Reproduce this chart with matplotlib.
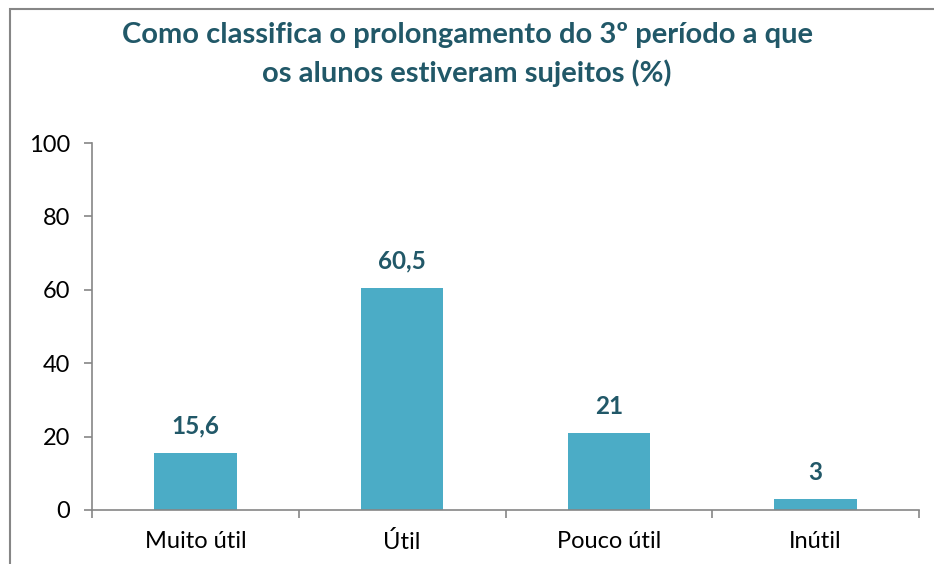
import matplotlib

matplotlib.use("Agg")
import matplotlib.pyplot as plt
from matplotlib.patches import Rectangle
from matplotlib.ticker import FixedLocator, NullFormatter

categories = ["Muito útil", "Útil", "Pouco útil", "Inútil"]
values = [15.6, 60.5, 21, 3]
value_labels = ["15,6", "60,5", "21", "3"]
title = "Como classifica o prolongamento do 3º período a que\nos alunos estiveram sujeitos (%)"

BAR_COLOR = "#4BACC6"
TEXT_COLOR = "#215868"
AXIS_COLOR = "#868686"
FONT = ["Lato", "DejaVu Sans"]

plt.rcParams["font.family"] = FONT

W, H = 934, 564
fig = plt.figure(figsize=(W / 100, H / 100), dpi=100)
ax = fig.add_axes([92 / W, 1 - 510 / H, (919 - 92) / W, (510 - 143) / H])

x = range(len(categories))
ax.bar(x, values, width=0.4, color=BAR_COLOR)
for xi, v, lab in zip(x, values, value_labels):
    ax.annotate(lab, (xi, v), xytext=(0, 11), textcoords="offset points",
                ha="center", va="bottom", fontsize=17.5, fontweight="bold",
                color=TEXT_COLOR)

ax.set_xlim(-0.5, len(categories) - 0.5)
ax.set_ylim(0, 100)
ax.set_yticks(range(0, 101, 20))
ax.set_xticks(list(x))
ax.set_xticklabels(categories)
ax.xaxis.set_minor_locator(FixedLocator([i - 0.5 for i in range(len(categories) + 1)]))
ax.xaxis.set_minor_formatter(NullFormatter())
ax.tick_params(axis="x", which="major", length=0, pad=15, labelsize=17)
ax.tick_params(axis="x", which="minor", length=6, color=AXIS_COLOR, width=1.2)
ax.tick_params(axis="y", length=6, color=AXIS_COLOR, width=1.2, labelsize=17, pad=10)

for side in ("top", "right"):
    ax.spines[side].set_visible(False)
for side in ("left", "bottom"):
    ax.spines[side].set_color(AXIS_COLOR)
    ax.spines[side].set_linewidth(1.2)

fig.text(467 / W, 1 - 22 / H, title, ha="center", va="top", fontsize=21,
         fontweight="bold", color=TEXT_COLOR, linespacing=1.5)

# chart frame (right and bottom edges fall outside the crop)
fig.patches.append(Rectangle((10 / W, -0.05), 1.1, 1 - 9 / H + 0.05,
                             transform=fig.transFigure, fill=False,
                             edgecolor=AXIS_COLOR, linewidth=1.5))

fig.savefig("out.png", dpi=100)
